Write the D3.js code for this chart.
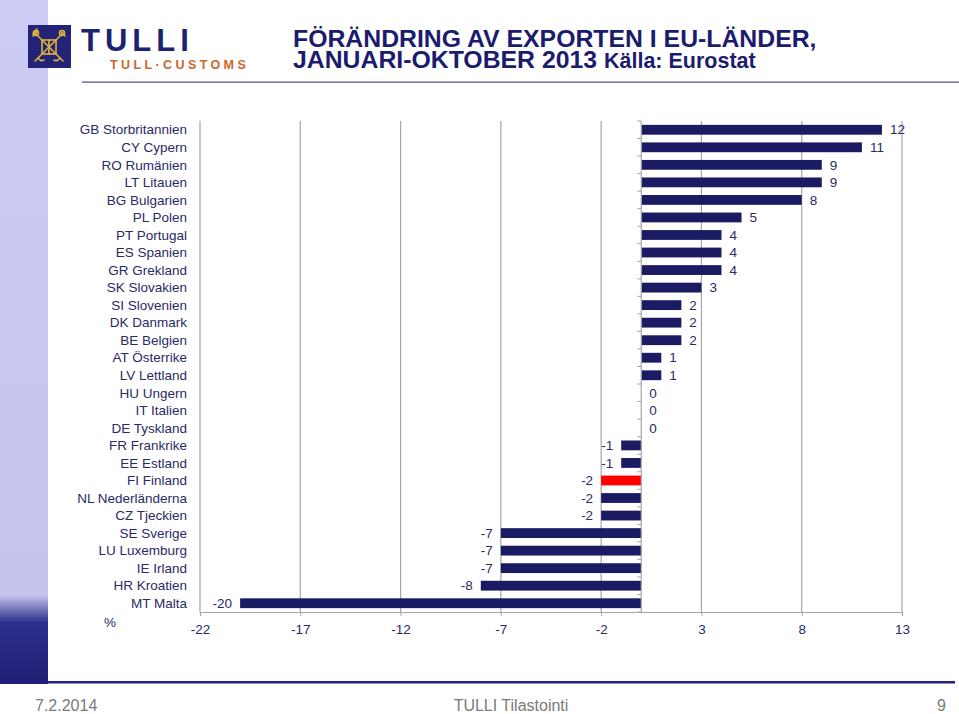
<!DOCTYPE html>
<html>
<head>
<meta charset="utf-8">
<script src="https://cdn.jsdelivr.net/npm/d3@7"></script>
<style>
  html, body { margin: 0; padding: 0; background: #fff; }
  svg { display: block; }
  text { font-family: "Liberation Sans", Arial, sans-serif; }
</style>
</head>
<body>
<svg id="chart" width="959" height="714"></svg>
<script>
// ---- data ----
const categories = [
  "GB Storbritannien", "CY Cypern", "RO Rumänien", "LT Litauen", "BG Bulgarien",
  "PL Polen", "PT Portugal", "ES Spanien", "GR Grekland", "SK Slovakien",
  "SI Slovenien", "DK Danmark", "BE Belgien", "AT Österrike", "LV Lettland",
  "HU Ungern", "IT Italien", "DE Tyskland", "FR Frankrike", "EE Estland",
  "FI Finland", "NL Nederländerna", "CZ Tjeckien", "SE Sverige", "LU Luxemburg",
  "IE Irland", "HR Kroatien", "MT Malta"
];
const values = [12, 11, 9, 9, 8, 5, 4, 4, 4, 3, 2, 2, 2, 1, 1, 0, 0, 0, -1, -1, -2, -2, -2, -7, -7, -7, -8, -20];
const highlighted = ["FI Finland"];
const tickValues = [-22, -17, -12, -7, -2, 3, 8, 13];
const titleLine1 = "FÖRÄNDRING AV EXPORTEN I EU-LÄNDER,";
const titleLine2a = "JANUARI-OKTOBER 2013";
const titleLine2b = "Källa: Eurostat";
const unitLabel = "%";
const footerDate = "7.2.2014";
const footerCenter = "TULLI Tilastointi";
const footerPage = "9";

const data = categories.map((c, i) => ({ name: c, value: values[i] }));

// ---- layout ----
const svg = d3.select("#chart");
const navy = "#1b1b63";
const textNavy = "#2a2a66";
const gridGray = "#a6a6a6";

// left strip with gradient
const defs = svg.append("defs");
const grad = defs.append("linearGradient").attr("id", "strip")
  .attr("x1", 0).attr("y1", 0).attr("x2", 0).attr("y2", 1);
grad.append("stop").attr("offset", "0").attr("stop-color", "#cbcbf3");
grad.append("stop").attr("offset", "0.87").attr("stop-color", "#c4c4ef");
grad.append("stop").attr("offset", "0.91").attr("stop-color", "#2e2e8e");
grad.append("stop").attr("offset", "1").attr("stop-color", "#1f1f74");
svg.append("rect").attr("x", 0).attr("y", 0).attr("width", 48).attr("height", 684)
  .attr("fill", "url(#strip)");

// footer line
svg.append("rect").attr("x", 48).attr("y", 681).attr("width", 907).attr("height", 2.5)
  .attr("fill", "#23237a");

// header line under logo
svg.append("rect").attr("x", 82).attr("y", 81.5).attr("width", 877).attr("height", 1.2)
  .attr("fill", "#2a2a6e").attr("opacity", 0.85);

// logo
const logo = svg.append("g");
logo.append("rect").attr("x", 28).attr("y", 25).attr("width", 43).attr("height", 43).attr("fill", "#232377");
const emb = logo.append("g").attr("stroke", "#e0b43a").attr("stroke-width", 1.6).attr("fill", "none")
  .attr("stroke-linecap", "round");
emb.append("line").attr("x1", 35).attr("y1", 33).attr("x2", 63).attr("y2", 61);
emb.append("line").attr("x1", 63).attr("y1", 33).attr("x2", 35).attr("y2", 61);
emb.append("rect").attr("x", 42).attr("y", 40).attr("width", 14).attr("height", 14);
emb.append("path").attr("d", "M33,36 l4,-4 M61,32 l4,4 M36,31 l-3,3 M34,32 l3,-3");
emb.append("circle").attr("cx", 36).attr("cy", 33).attr("r", 2.5);
emb.append("circle").attr("cx", 62).attr("cy", 33).attr("r", 2.5);
emb.append("path").attr("d", "M38,58 q3,4 6,2 M60,58 q-3,4 -6,2 M49,40 v14");
logo.append("text").attr("x", 81).attr("y", 51).attr("font-size", 31).attr("font-weight", "bold")
  .attr("fill", "#1d2170").attr("letter-spacing", 5).text("TULLI");
logo.append("text").attr("x", 110).attr("y", 69).attr("font-size", 12.5).attr("font-weight", "bold")
  .attr("fill", "#d0642c").attr("letter-spacing", 3.4).text("TULL·CUSTOMS");

// title
svg.append("text").attr("x", 293).attr("y", 47).attr("font-size", 24.8).attr("font-weight", "bold")
  .attr("fill", "#1c1c6e").text(titleLine1);
const t2 = svg.append("text").attr("x", 293).attr("y", 68).attr("font-weight", "bold").attr("fill", "#1c1c6e");
t2.append("tspan").attr("font-size", 24.8).text(titleLine2a + " ");
t2.append("tspan").attr("font-size", 21.5).text(titleLine2b);

// scales
const x = d3.scaleLinear().domain([-22, 13]).range([200, 902]);
const y = d3.scaleBand().domain(categories).range([121, 612]).paddingInner(0.44).paddingOuter(0.22);
const plotTop = 121, plotBottom = 612;

// gridlines
svg.append("g").selectAll("line").data(tickValues).join("line")
  .attr("x1", d => x(d)).attr("x2", d => x(d))
  .attr("y1", plotTop).attr("y2", plotBottom)
  .attr("stroke", gridGray).attr("stroke-width", 1.2);

// x axis
const xAxis = d3.axisBottom(x).tickValues(tickValues).tickSize(4).tickPadding(8).tickFormat(d3.format("d"));
const gx = svg.append("g").attr("transform", `translate(0,${plotBottom})`).call(xAxis);
gx.select(".domain").attr("stroke", gridGray).attr("stroke-width", 1.2);
gx.selectAll(".tick line").attr("stroke", gridGray);
gx.selectAll(".tick text").attr("font-size", 13.5).attr("fill", textNavy)
  .attr("font-family", "'Liberation Sans', Arial, sans-serif")
  .text(d => d < 0 ? "-" + Math.abs(d) : d);

// bars
svg.append("g").selectAll("rect").data(data).join("rect")
  .attr("x", d => x(Math.min(0, d.value)))
  .attr("y", d => y(d.name))
  .attr("width", d => Math.abs(x(d.value) - x(0)))
  .attr("height", y.bandwidth())
  .attr("fill", d => highlighted.includes(d.name) ? "#ff0000" : navy);

// zero axis with category ticks
const x0 = x(0);
svg.append("line").attr("x1", x0).attr("x2", x0).attr("y1", plotTop).attr("y2", plotBottom)
  .attr("stroke", gridGray).attr("stroke-width", 1.2);
const step = y.step();
svg.append("g").selectAll("line").data(d3.range(categories.length + 1)).join("line")
  .attr("x1", x0 - 4).attr("x2", x0)
  .attr("y1", i => plotTop + i * step).attr("y2", i => plotTop + i * step)
  .attr("stroke", gridGray);

// category labels
svg.append("g").selectAll("text").data(categories).join("text")
  .attr("x", 187).attr("y", d => y(d) + y.bandwidth() / 2)
  .attr("dy", "0.35em").attr("text-anchor", "end")
  .attr("font-size", 13.5).attr("fill", textNavy).text(d => d);

// value labels
svg.append("g").selectAll("text").data(data).join("text")
  .attr("x", d => d.value < 0 ? x(d.value) - 8 : x(d.value) + 8)
  .attr("y", d => y(d.name) + y.bandwidth() / 2)
  .attr("dy", "0.35em")
  .attr("text-anchor", d => d.value < 0 ? "end" : "start")
  .attr("font-size", 13.5).attr("fill", textNavy)
  .text(d => d.value < 0 ? "-" + Math.abs(d.value) : d.value);

// unit label
svg.append("text").attr("x", 104).attr("y", 627).attr("font-size", 13.5).attr("fill", textNavy).text(unitLabel);

// footer
const footerStyle = sel => sel.attr("font-size", 16).attr("fill", "#7a7a7a").attr("y", 711);
footerStyle(svg.append("text").attr("x", 35).text(footerDate));
footerStyle(svg.append("text").attr("x", 511).attr("text-anchor", "middle").text(footerCenter));
footerStyle(svg.append("text").attr("x", 946).attr("text-anchor", "end").text(footerPage));
</script>
</body>
</html>
